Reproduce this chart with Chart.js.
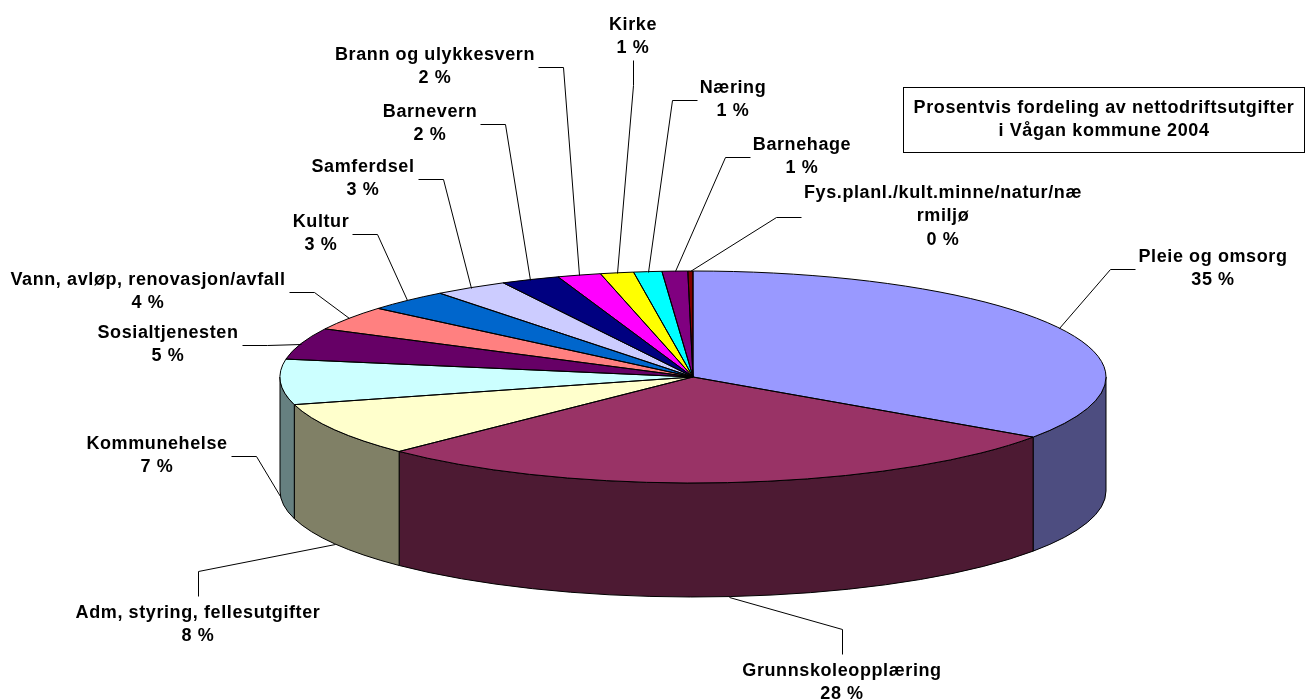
<!DOCTYPE html>
<html>
<head>
<meta charset="utf-8">
<script src="https://cdnjs.cloudflare.com/ajax/libs/Chart.js/4.4.1/chart.umd.min.js"></script>
<style>
  body { margin: 0; background: #fff; }
</style>
</head>
<body>
<canvas id="canvas" width="1306" height="700"></canvas>
<script>
// netto driftsutgifter 2004, share of total in percent (clockwise from 12 o'clock)
var categories = ['Pleie og omsorg', 'Grunnskoleopplæring', 'Adm, styring, fellesutgifter',
  'Kommunehelse', 'Sosialtjenesten', 'Vann, avløp, renovasjon/avfall', 'Kultur', 'Samferdsel',
  'Barnevern', 'Brann og ulykkesvern', 'Kirke', 'Næring', 'Barnehage',
  'Fys.planl./kult.minne/natur/nærmiljø'];
var shares = [34.6, 28.0, 8.2, 6.9, 4.8, 3.7, 3.3, 2.9, 2.3, 1.7, 1.3, 1.1, 1.0, 0.2];
var titleLines = ['Prosentvis fordeling av nettodriftsutgifter', 'i Vågan kommune 2004'];

var colors = ['#9999FF', '#993366', '#FFFFCC', '#CCFFFF', '#660066', '#FF8080', '#0066CC',
  '#CCCCFF', '#000080', '#FF00FF', '#FFFF00', '#00FFFF', '#800080', '#800000'];

// where the flat pie is laid out on the page
var pie = { cx: 693, cy: 377, rx: 413, ry: 106, depth: 114 };

// label block: centre x, first line y, side the leader line joins
var labelLayout = [
  [1213, 257, 'left'],
  [842, 671, 'top'],
  [198, 613, 'top'],
  [157, 444, 'right'],
  [168, 333, 'right'],
  [148, 280, 'right'],
  [321, 222, 'right'],
  [363, 167, 'right'],
  [430, 112, 'right'],
  [435, 55, 'right'],
  [633, 25, 'bottom'],
  [733, 88, 'left'],
  [802, 145, 'left'],
  [943, 193, 'left']
];
var LH = 23.5;
var FONT = 'bold 18px "Liberation Sans", Arial, sans-serif';

function darker(hex) {
  var n = parseInt(hex.slice(1), 16);
  var r = Math.round(((n >> 16) & 255) * 0.5), g = Math.round(((n >> 8) & 255) * 0.5), b = Math.round((n & 255) * 0.5);
  return 'rgb(' + r + ',' + g + ',' + b + ')';
}

function setPieTransform(ctx, a) {
  ctx.translate(pie.cx, pie.cy);
  ctx.scale(pie.rx / a.outerRadius, pie.ry / a.outerRadius);
  ctx.translate(-a.x, -a.y);
}

function wrapText(ctx, text, maxW) {
  if (ctx.measureText(text).width <= maxW) return [text];
  var lines = [], cur = '';
  for (var ch of text) {
    if (cur && ctx.measureText(cur + ch).width > maxW) { lines.push(cur); cur = ch; }
    else cur += ch;
  }
  lines.push(cur);
  return lines;
}

var pie3d = {
  id: 'pie3d',
  beforeDatasetsDraw: function(chart) {
    var ctx = chart.ctx;
    var arcs = chart.getDatasetMeta(0).data;
    var D = pie.depth * arcs[0].outerRadius / pie.ry;
    // side walls, only the front half (0..PI) shows
    arcs.forEach(function(a, i) {
      var s = Math.max(a.startAngle, 0), e = Math.min(a.endAngle, Math.PI);
      if (s >= e) return;
      ctx.save();
      setPieTransform(ctx, a);
      ctx.beginPath();
      ctx.arc(a.x, a.y, a.outerRadius, s, e);
      ctx.arc(a.x, a.y + D, a.outerRadius, e, s, true);
      ctx.closePath();
      ctx.restore();
      ctx.fillStyle = darker(colors[i]);
      ctx.fill();
      ctx.lineWidth = 1;
      ctx.strokeStyle = '#000';
      ctx.stroke();
    });
    ctx.save();
    setPieTransform(ctx, arcs[0]);
  },
  afterDatasetsDraw: function(chart) {
    var ctx = chart.ctx;
    ctx.restore();
    chart.getDatasetMeta(0).data.forEach(function(a) {
      ctx.save();
      setPieTransform(ctx, a);
      ctx.beginPath();
      ctx.moveTo(a.x, a.y);
      ctx.arc(a.x, a.y, a.outerRadius, a.startAngle, a.endAngle);
      ctx.closePath();
      ctx.restore();
      ctx.lineWidth = 1;
      ctx.strokeStyle = '#000';
      ctx.stroke();
    });
  },
  afterDraw: function(chart) {
    var ctx = chart.ctx;
    var arcs = chart.getDatasetMeta(0).data;
    ctx.save();
    ctx.font = FONT;
    ctx.letterSpacing = '0.6px';
    ctx.fillStyle = '#000';
    ctx.textAlign = 'center';
    ctx.textBaseline = 'middle';
    ctx.strokeStyle = '#000';
    ctx.lineWidth = 1;

    arcs.forEach(function(a, i) {
      var lines = wrapText(ctx, categories[i], 285);
      lines.push(Math.round(shares[i]) + ' %');
      var L = labelLayout[i], x = L[0], y = L[1];
      var w = Math.max.apply(null, lines.map(function(t) { return ctx.measureText(t).width; }));
      var yc = y + (lines.length - 1) * LH / 2;

      // leader: slice point -> tick -> label
      var mid = (a.startAngle + a.endAngle) / 2;
      var px = pie.cx + pie.rx * Math.cos(mid);
      var py = pie.cy + pie.ry * Math.sin(mid) + (Math.sin(mid) > 0 ? pie.depth : 0);
      var ex, ey, tx, ty;
      if (L[2] === 'left') { ex = x - w / 2 - 3; ey = yc; tx = ex - 25; ty = ey; }
      else if (L[2] === 'right') { ex = x + w / 2 + 3; ey = yc; tx = ex + 25; ty = ey; }
      else if (L[2] === 'top') { ex = x; ey = y - LH / 2 - 5; tx = ex; ty = ey - 25; }
      else { ex = x; ey = y + (lines.length - 1) * LH + LH / 2; tx = ex; ty = ey + 25; }
      ctx.beginPath();
      ctx.moveTo(Math.round(px) + 0.5, Math.round(py) + 0.5);
      ctx.lineTo(Math.round(tx) + 0.5, Math.round(ty) + 0.5);
      ctx.lineTo(Math.round(ex) + 0.5, Math.round(ey) + 0.5);
      ctx.stroke();

      lines.forEach(function(t, k) { ctx.fillText(t, x, y + k * LH); });
    });

    // title box
    ctx.strokeRect(903.5, 87.5, 401, 65);
    titleLines.forEach(function(t, k) { ctx.fillText(t, 1104, 108 + k * 23); });
    ctx.restore();
  }
};

window.addEventListener('load', function() {
  var ctx = document.getElementById('canvas').getContext('2d');
  window.myPie = new Chart(ctx, {
    type: 'pie',
    data: {
      labels: categories,
      datasets: [{
        data: shares,
        backgroundColor: colors,
        borderWidth: 0,
        clip: false
      }]
    },
    options: {
      responsive: false,
      animation: false,
      events: [],
      plugins: {
        legend: { display: false },
        tooltip: { enabled: false }
      }
    },
    plugins: [pie3d]
  });
});
</script>
</body>
</html>
